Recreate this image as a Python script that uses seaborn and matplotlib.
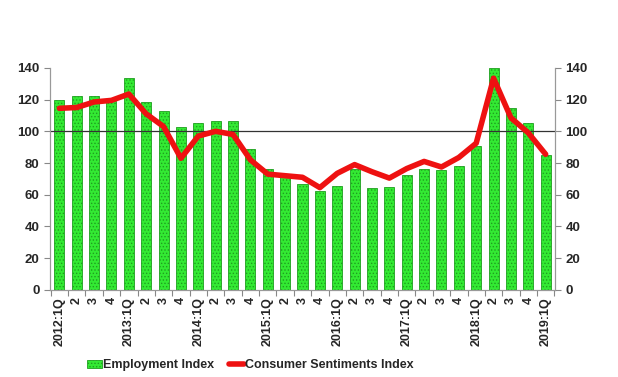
import matplotlib
matplotlib.use("Agg")
import matplotlib.pyplot as plt
import numpy as np
import pandas as pd
import seaborn as sns
from matplotlib.ticker import FixedLocator

quarters = [f"{y}Q{q}" for y in range(2012, 2019) for q in range(1, 5)] + ["2019Q1"]
tick_labels = [f"{q[:4]}:1Q" if q.endswith("Q1") else q[-1] for q in quarters]

employment = [120, 122, 122, 119, 133.5, 118.5, 112.5, 102.5, 105.5, 106.5, 106.5, 89,
              76.5, 72, 67, 62.5, 65.5, 76.5, 64, 65, 72.5, 76.5, 75.5, 78,
              91, 140, 114.5, 105, 85]
consumer = [114.5, 115, 118.5, 119.5, 123.5, 111, 103, 83, 97, 100, 98, 82,
            73, 72, 71, 64.5, 73.5, 79, 74.5, 70.5, 76.5, 81, 77.5, 83.5,
            92.5, 133.5, 108.5, 99, 85.5]

df = pd.DataFrame({"quarter": quarters, "employment": employment, "consumer": consumer})

sns.set_style("white")
plt.rcParams["font.family"] = ["Liberation Sans", "DejaVu Sans"]
plt.rcParams["font.weight"] = "bold"
plt.rcParams["hatch.linewidth"] = 0.6

fig, ax = plt.subplots(figsize=(6.18, 3.77), dpi=100)
fig.subplots_adjust(left=0.081, right=0.898, bottom=0.231, top=0.82)

sns.barplot(x="quarter", y="employment", data=df, ax=ax, color="#33ea33",
            width=0.58, edgecolor="#1f9f1f", linewidth=0.6, saturation=1,
            label="Employment Index")
for p in ax.patches:
    p.set_hatch(".....")

sns.lineplot(x=np.arange(len(df)), y=df["consumer"], ax=ax, color="#ee1111",
             linewidth=4, label="Consumer Sentiments Index", legend=False)

ax.axhline(100, color="#333333", linewidth=0.9, zorder=1.5)

ax.set_xlim(-0.535, len(df) - 0.465)
ax.set_ylim(0, 140)
ax.set_yticks(range(0, 141, 20))
ax.set_xlabel("")
ax.set_ylabel("")
ax.set_xticks(range(len(df)))
ax.set_xticklabels(tick_labels, rotation=90, fontsize=9, fontweight="bold")
ax.xaxis.set_minor_locator(FixedLocator(np.arange(-0.5, len(df), 1)))
ax.tick_params(axis="x", which="major", length=0, pad=5)
ax.tick_params(axis="x", which="minor", length=4, width=0.8, color="#888888", direction="out", bottom=True)
ax.tick_params(axis="y", labelsize=9.5, length=4, width=0.8, color="#888888", direction="out", left=True)

ax2 = ax.twinx()
ax2.set_ylim(0, 140)
ax2.set_yticks(range(0, 141, 20))
ax2.tick_params(axis="y", labelsize=9.5, length=4, width=0.8, color="#888888", direction="out", right=True)
for a in (ax, ax2):
    for lab in a.get_yticklabels():
        lab.set_fontweight("bold")
    a.spines["top"].set_visible(False)
    for s in ("left", "right", "bottom"):
        a.spines[s].set_color("#999999")
        a.spines[s].set_linewidth(0.8)

handles, labels = ax.get_legend_handles_labels()
order = [labels.index("Employment Index"), labels.index("Consumer Sentiments Index")]
if ax.get_legend() is not None:
    ax.get_legend().remove()
fig.legend([handles[i] for i in order], [labels[i] for i in order],
           loc="lower center", bbox_to_anchor=(0.405, -0.015), ncol=2,
           frameon=False, handlelength=1.2, handletextpad=0.1, columnspacing=1.2,
           prop={"weight": "bold", "size": 9})

fig.savefig("out.png", dpi=100)
